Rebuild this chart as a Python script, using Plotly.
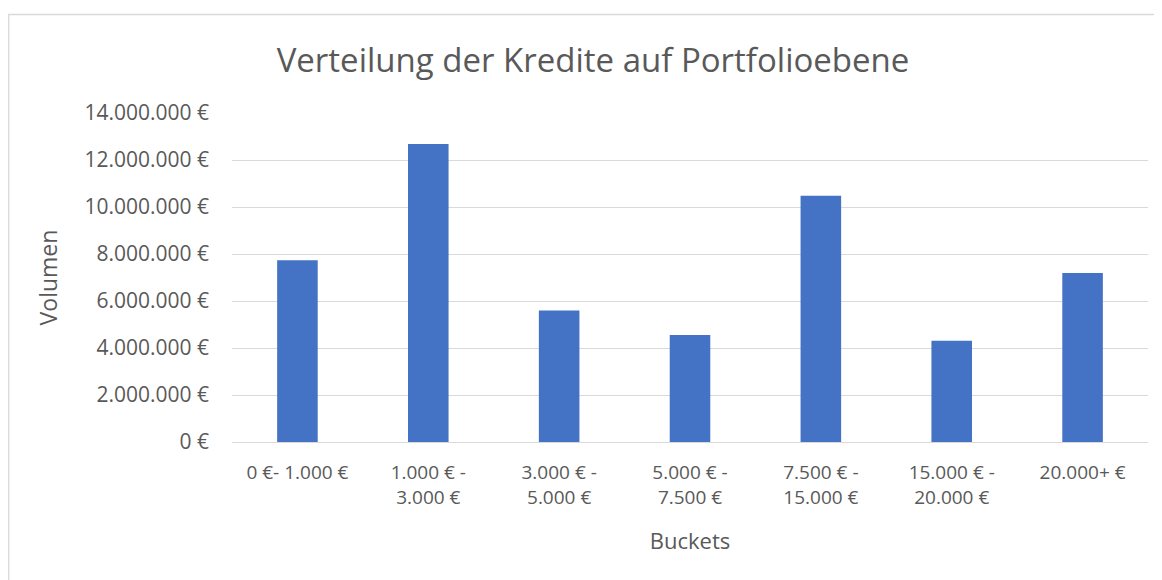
import plotly.graph_objects as go

categories = ["0 €- 1.000 €", "1.000 € -<br>3.000 €", "3.000 € -<br>5.000 €",
              "5.000 € -<br>7.500 €", "7.500 € -<br>15.000 €", "15.000 € -<br>20.000 €",
              "20.000+ €"]
volumes = [7730000, 12680000, 5600000, 4550000, 10480000, 4310000, 7190000]
y_ticks = [0, 2000000, 4000000, 6000000, 8000000, 10000000, 12000000, 14000000]
y_tick_text = [f"{v:,}".replace(",", ".") + " €" for v in y_ticks]

# the page body adds an 8px margin, so work in figure coordinates = page - 8
OFF = 8
W, H = 1162 - OFF, 580 - OFF
L, R, T, B = 232 - OFF, W - (1148 - OFF), 113 - OFF, H - (442 - OFF)
pw, ph = W - L - R, H - T - B

def px_x(x):
    return (x - OFF - L) / pw

def px_y(y):
    return (H - B - (y - OFF)) / ph

FONT = "Open Sans"
GREY = "#595959"

fig = go.Figure(go.Bar(x=categories, y=volumes, marker=dict(color="#4472C4", line=dict(width=0))))

fig.update_layout(
    width=W, height=H,
    margin=dict(l=L, r=R, t=T, b=B, pad=0),
    paper_bgcolor="white", plot_bgcolor="white",
    bargap=0.69,
    showlegend=False,
    font=dict(family=FONT, color=GREY, size=19),
    title=dict(text="Verteilung der Kredite auf Portfolioebene", x=px_x(593), xref="paper",
               xanchor="center", y=1 - (60 - OFF) / H, yanchor="middle",
               font=dict(family=FONT, size=33, color=GREY)),
    xaxis=dict(showgrid=False, showline=False, ticks="", tickfont=dict(size=19, color=GREY),
               ticklabelstandoff=17,
               title=dict(text="Buckets", font=dict(size=22, color=GREY), standoff=24)),
    yaxis=dict(range=[0, 14000000], tickvals=y_ticks, ticktext=y_tick_text,
               showgrid=True, gridcolor="#D9D9D9", gridwidth=1.4,
               zeroline=True, zerolinecolor="#D9D9D9", zerolinewidth=1.4,
               showline=False, ticks="", ticklabelstandoff=22,
               tickfont=dict(size=21, color=GREY),
               title=dict(text="Volumen", font=dict(size=23, color=GREY), standoff=20)),
    shapes=[dict(type="rect", xref="paper", yref="paper",
                 x0=px_x(8.75), x1=px_x(1200), y0=px_y(620), y1=px_y(14.5),
                 line=dict(color="#D9D9D9", width=1.3), fillcolor="rgba(0,0,0,0)", layer="below")],
)

fig.write_html("out.html")
